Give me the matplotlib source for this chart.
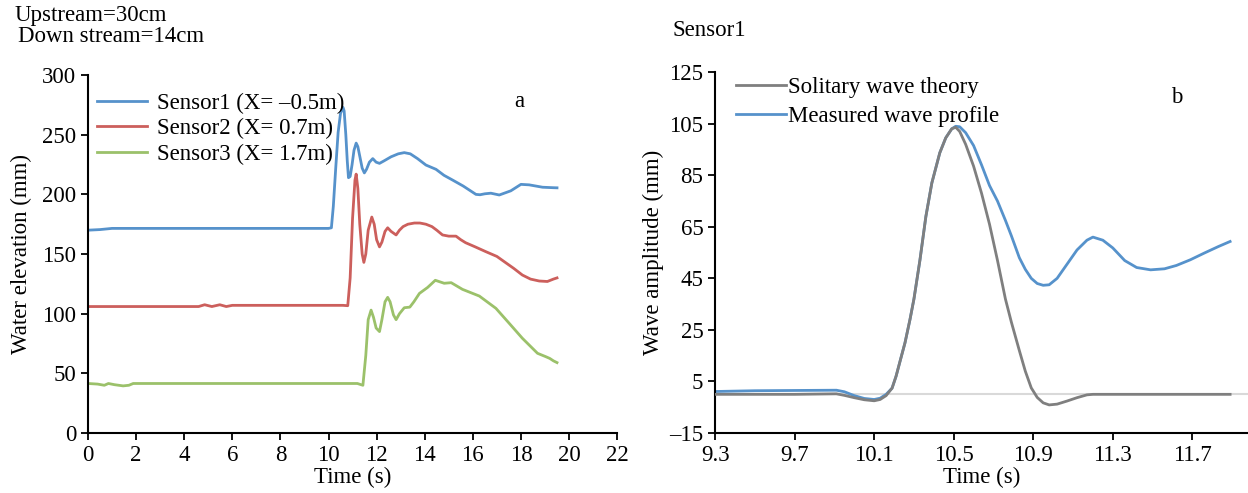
import matplotlib
matplotlib.use("Agg")
import matplotlib.pyplot as plt

plt.rcParams['font.family'] = ['Liberation Serif', 'DejaVu Serif']
plt.rcParams['font.size'] = 16.5

# ---- panel a: water elevation at three sensors ----
t1 = [0, 0.5, 1.0, 2, 4, 6, 8, 9.5, 10.0, 10.12, 10.2, 10.3, 10.4, 10.5, 10.6, 10.65, 10.72,
      10.78, 10.83, 10.9, 10.98, 11.06, 11.15, 11.22, 11.3, 11.4, 11.49, 11.58, 11.7, 11.84,
      11.98, 12.12, 12.3, 12.6, 12.9, 13.15, 13.4, 13.7, 14.05, 14.47, 14.8,
      15.16, 15.6, 16.13, 16.3, 16.5, 16.75, 17.1, 17.58, 18.0, 18.34, 18.9, 19.35, 19.5]
s1 = [170, 170.5, 171.5, 171.5, 171.5, 171.5, 171.5, 171.5, 171.5, 172, 190, 222, 252, 268, 273, 270, 250,
      228, 214, 215, 225, 237, 243, 240, 232, 222, 218, 221, 227, 230,
      227, 226, 228, 231.5, 234, 235, 234, 230, 224.6, 221, 216,
      212, 207, 200, 199.7, 200.5, 201, 199.5, 203, 208.4, 208, 206, 205.6, 205.5]

t2 = [0, 2, 4.6, 4.85, 5.15, 5.48, 5.75, 6.0, 6.3, 8, 10.0, 10.6, 10.8, 10.9, 11.0, 11.1, 11.15,
      11.22, 11.3, 11.4, 11.47, 11.55, 11.65, 11.8, 11.9, 12.0, 12.12, 12.22, 12.35, 12.46,
      12.6, 12.81, 12.95, 13.1, 13.3, 13.57, 13.8, 14.05, 14.3, 14.5, 14.74, 15.0, 15.3, 15.5,
      15.7, 16.1, 16.54, 17.0, 17.37, 17.7, 18.06, 18.4, 18.76, 19.1, 19.35, 19.5]
s2 = [106, 106, 106, 107.5, 106, 107.5, 106, 107, 107, 107, 107, 107, 106.7, 130, 180, 212, 217,
      205, 175, 150, 143, 150, 170, 181, 175, 162, 156, 160, 169, 172,
      169, 166, 170, 173, 175, 176, 176, 175, 173, 170, 166, 165, 165, 162,
      159.5, 156, 152, 148, 142.7, 138, 132.4, 129, 127.4, 127, 129, 130]

t3 = [0, 0.4, 0.68, 0.85, 1.1, 1.46, 1.7, 1.88, 4, 8, 11.0, 11.2, 11.43, 11.55, 11.65, 11.77,
      11.87, 11.98, 12.12, 12.22, 12.35, 12.46, 12.56, 12.7, 12.81, 12.95, 13.15, 13.38, 13.55,
      13.78, 14.12, 14.44, 14.81, 15.1, 15.57, 16.27, 16.96, 17.51, 18.06, 18.69, 19.03, 19.2,
      19.35, 19.5]
s3 = [41.5, 41, 40, 41.5, 40.5, 39.5, 40, 41.5, 41.5, 41.5, 41.5, 41.5, 40, 65, 95, 103,
      97, 88, 85, 95, 110, 113.7, 110, 99, 95, 100, 105, 105.5, 110,
      117, 122, 128, 125.5, 126, 120.4, 114.8, 104.5, 92, 79.4, 66.8, 64, 62.5,
      60.5, 59]

labels_a = ['Sensor1 (X= \u20130.5m)', 'Sensor2 (X= 0.7m)', 'Sensor3 (X= 1.7m)']

# ---- panel b: sensor1 vs solitary wave theory ----
tb = [9.3, 9.5, 9.7, 9.91, 9.95, 10.0, 10.05, 10.1, 10.13, 10.16, 10.19, 10.21, 10.23, 10.255,
      10.28, 10.3, 10.33, 10.36, 10.39, 10.43, 10.46, 10.49, 10.51, 10.53, 10.56, 10.6, 10.64,
      10.68, 10.72, 10.76, 10.79, 10.83, 10.86, 10.89, 10.92, 10.95, 10.98, 11.02, 11.07,
      11.12, 11.17, 11.2, 11.25, 11.3, 11.36, 11.42, 11.49, 11.56, 11.62, 11.69, 11.76,
      11.83, 11.89]
measured = [1.1, 1.4, 1.5, 1.6, 1.0, -0.5, -1.6, -2.0, -1.5, 0, 2.4, 7, 12.8, 20,
            29, 37, 52, 69, 82, 93.7, 99.5, 103, 104, 103.8, 101.5, 96.5, 89,
            81, 75, 67.5, 61.5, 53, 48.5, 45, 43, 42.3, 42.5, 45, 50.5,
            56, 59.8, 61, 59.8, 56.8, 51.9, 49.2, 48.3, 48.7, 50, 52.2, 54.8,
            57.3, 59.3]
theory = [0, 0, 0, 0.2, -0.4, -1.3, -2.1, -2.5, -2.0, -0.5, 2.4, 7, 12.8, 20,
          29, 37, 52, 69, 82, 93.7, 99.5, 103, 103.6, 102, 97, 88.5, 78,
          66, 52, 37, 28, 17, 9, 2.5, -1.2, -3.3, -4.1, -3.8, -2.6,
          -1.3, -0.2, 0, 0, 0, 0, 0, 0, 0, 0, 0, 0,
          0, 0]

blue = '#5692CB'
red = '#CC5F5C'
green = '#9BC16A'
gray = '#7F7F7F'

fig = plt.figure(figsize=(12.48, 4.93), dpi=100)

ax1 = fig.add_axes([0.0705, 0.1217, 0.424, 0.726])
ax1.plot(t1, s1, color=blue, lw=2, label=labels_a[0])
ax1.plot(t2, s2, color=red, lw=2, label=labels_a[1])
ax1.plot(t3, s3, color=green, lw=2, label=labels_a[2])
ax1.set_xlim(0, 22)
ax1.set_ylim(0, 300)
ax1.set_xticks(range(0, 23, 2))
ax1.set_yticks(range(0, 301, 50))
ax1.set_xlabel('Time (s)', labelpad=1)
ax1.set_ylabel('Water elevation (mm)', labelpad=7)
ax1.spines['top'].set_visible(False)
ax1.spines['right'].set_visible(False)
ax1.tick_params(direction='out', length=5, width=1.3)
for s in ax1.spines.values():
    s.set_linewidth(1.5)
ax1.legend(loc='upper left', bbox_to_anchor=(-0.014, 0.995), frameon=False,
           handlelength=2.2, handletextpad=0.45, labelspacing=0.18, borderaxespad=0.3)
ax1.text(0.806, 0.91, 'a', transform=ax1.transAxes)

ax2 = fig.add_axes([0.573, 0.1217, 0.427, 0.732])
ax2.axhline(0, color='#D9D9D9', lw=1.5, zorder=1)
ax2.plot(tb, measured, color=blue, lw=2, label='Measured wave profile', zorder=2)
ax2.plot(tb, theory, color=gray, lw=2, label='Solitary wave theory', zorder=3)
ax2.set_xlim(9.3, 11.98)
ax2.set_ylim(-15, 125)
ax2.set_xticks([9.3, 9.7, 10.1, 10.5, 10.9, 11.3, 11.7])
ax2.set_yticks(range(-15, 126, 20))
ax2.set_yticklabels(['\u201315'] + [str(v) for v in range(5, 126, 20)])
ax2.set_xlabel('Time (s)', labelpad=1)
ax2.set_ylabel('Wave amplitude (mm)', labelpad=4)
ax2.spines['top'].set_visible(False)
ax2.spines['right'].set_visible(False)
ax2.tick_params(direction='out', length=5, width=1.3)
for s in ax2.spines.values():
    s.set_linewidth(1.5)
h, l = ax2.get_legend_handles_labels()
ax2.legend(h[::-1], l[::-1], loc='upper left', bbox_to_anchor=(0.009, 1.03), frameon=False,
           handlelength=2.2, handletextpad=0.05, labelspacing=0.33, borderaxespad=0.3)
ax2.text(0.855, 0.915, 'b', transform=ax2.transAxes)

fig.text(15 / 1248, 1 - 16 / 493, 'Upstream=30cm', va='center')
fig.text(18 / 1248, 1 - 37 / 493, 'Down stream=14cm', va='center')
fig.text(672 / 1248, 1 - 30 / 493, 'Sensor1', va='center')

fig.savefig('out.png', dpi=100)
